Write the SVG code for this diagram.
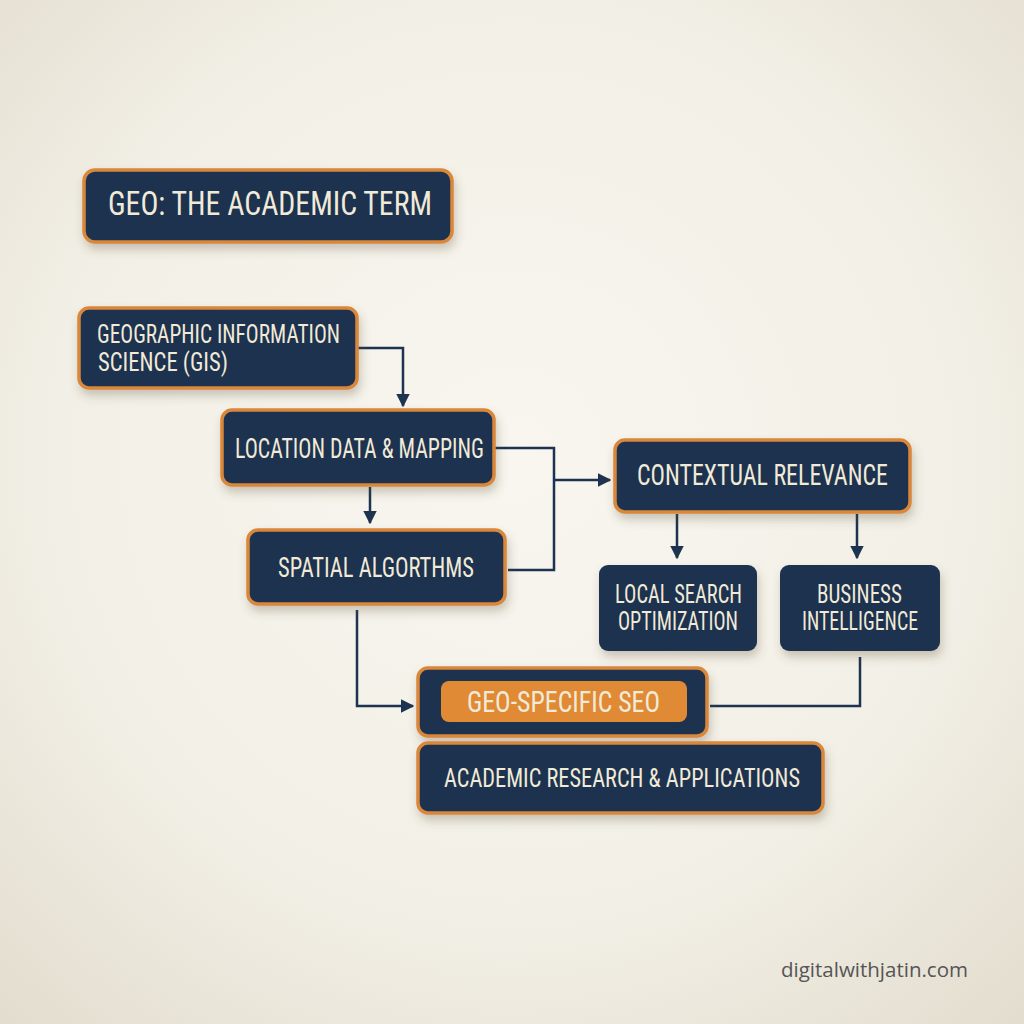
<svg xmlns="http://www.w3.org/2000/svg" width="1024" height="1024" viewBox="0 0 1024 1024">
<defs>
<radialGradient id="bg" cx="50%" cy="45%" r="75%">
<stop offset="0" stop-color="#f8f6ef"/>
<stop offset="0.6" stop-color="#f2efe6"/>
<stop offset="1" stop-color="#e2dccd"/>
</radialGradient>
<filter id="sh" x="-20%" y="-30%" width="140%" height="170%">
<feDropShadow dx="2" dy="6" stdDeviation="5" flood-color="#5a4a30" flood-opacity="0.28"/>
</filter>
<marker id="ah" viewBox="0 0 10 10" refX="9" refY="5" markerWidth="5.5" markerHeight="5.5" orient="auto" markerUnits="strokeWidth">
<path d="M0,0 L10,5 L0,10 z" fill="#1e3350"/>
</marker>
<style>
.box{fill:#1e3350;stroke:#d9873a;stroke-width:3.5;filter:url(#sh)}
.plain{fill:#1e3350;filter:url(#sh)}
.pill{fill:#e08a35}
.t{font-family:"Roboto Condensed","Liberation Sans Narrow","DejaVu Sans Condensed","Liberation Sans",sans-serif;fill:#f1ead8;font-weight:400}
.c{fill:none;stroke:#1e3350;stroke-width:2.5}
.wm{font-family:"Open Sans","Noto Sans",sans-serif;fill:#555555;font-size:20px}
</style>
</defs>
<rect width="1024" height="1024" fill="url(#bg)"/>

<g id="connectors">
<path class="c" d="M357,348 H403 V406" marker-end="url(#ah)"/>
<path class="c" d="M370,487 V523" marker-end="url(#ah)"/>
<path class="c" d="M494,448 H554 V570 H508"/>
<path class="c" d="M554,480 H610" marker-end="url(#ah)"/>
<path class="c" d="M677,514 V558" marker-end="url(#ah)"/>
<path class="c" d="M857,514 V558" marker-end="url(#ah)"/>
<path class="c" d="M357,610 V706 H413" marker-end="url(#ah)"/>
<path class="c" d="M860,657 V706 H710"/>
</g>

<g id="title">
<rect class="box" x="84" y="170" width="368" height="72" rx="11"/>
<text class="t" x="108" y="215" font-size="34" textLength="324" lengthAdjust="spacingAndGlyphs">GEO: THE ACADEMIC TERM</text>
</g>

<g id="gis">
<rect class="box" x="79" y="308" width="278" height="80" rx="10"/>
<text class="t" x="97" y="343" font-size="25" textLength="243" lengthAdjust="spacingAndGlyphs">GEOGRAPHIC INFORMATION</text>
<text class="t" x="98" y="371" font-size="25" textLength="130" lengthAdjust="spacingAndGlyphs">SCIENCE (GIS)</text>
</g>

<g id="location">
<rect class="box" x="222" y="410" width="272" height="75" rx="10"/>
<text class="t" x="235" y="458" font-size="27" textLength="249" lengthAdjust="spacingAndGlyphs">LOCATION DATA &amp; MAPPING</text>
</g>

<g id="spatial">
<rect class="box" x="248" y="530" width="257" height="74" rx="10"/>
<text class="t" x="278" y="577" font-size="27" textLength="196" lengthAdjust="spacingAndGlyphs">SPATIAL ALGORTHMS</text>
</g>

<g id="contextual">
<rect class="box" x="615" y="440" width="295" height="72" rx="10"/>
<text class="t" x="637" y="485" font-size="29" textLength="251" lengthAdjust="spacingAndGlyphs">CONTEXTUAL RELEVANCE</text>
</g>

<g id="local">
<rect class="plain" x="599" y="565" width="158" height="86" rx="9"/>
<text class="t" x="615" y="603" font-size="25" textLength="127" lengthAdjust="spacingAndGlyphs">LOCAL SEARCH</text>
<text class="t" x="618" y="630" font-size="25" textLength="120" lengthAdjust="spacingAndGlyphs">OPTIMIZATION</text>
</g>

<g id="business">
<rect class="plain" x="780" y="565" width="160" height="86" rx="9"/>
<text class="t" x="817" y="603" font-size="25" textLength="85" lengthAdjust="spacingAndGlyphs">BUSINESS</text>
<text class="t" x="802" y="630" font-size="25" textLength="116" lengthAdjust="spacingAndGlyphs">INTELLIGENCE</text>
</g>

<g id="geoseo">
<rect class="box" x="418" y="668" width="289" height="68" rx="10"/>
<rect class="pill" x="441" y="681" width="246" height="41" rx="8"/>
<text class="t" x="467" y="712" font-size="29" textLength="193" lengthAdjust="spacingAndGlyphs">GEO-SPECIFIC SEO</text>
</g>

<g id="academic">
<rect class="box" x="418" y="743" width="405" height="70" rx="10"/>
<text class="t" x="444" y="787" font-size="26" textLength="356" lengthAdjust="spacingAndGlyphs">ACADEMIC RESEARCH &amp; APPLICATIONS</text>
</g>

<text class="wm" x="781" y="977" textLength="187" lengthAdjust="spacingAndGlyphs">digitalwithjatin.com</text>
</svg>
